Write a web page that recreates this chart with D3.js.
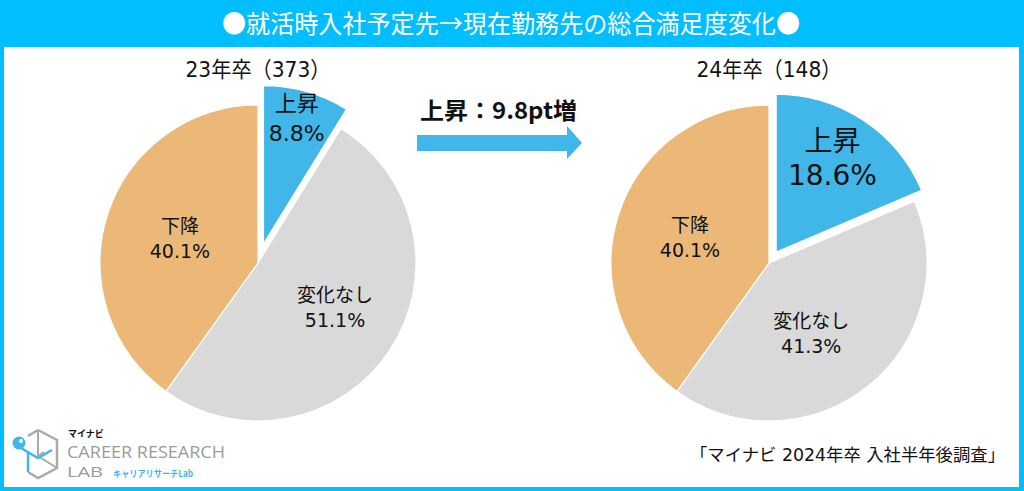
<!DOCTYPE html>
<html><head><meta charset="utf-8">
<script src="https://cdn.jsdelivr.net/npm/d3@7/dist/d3.min.js"></script>
<style>
html,body{margin:0;padding:0;background:#fff;}
svg{display:block;font-family:"DejaVu Sans","Noto Sans CJK JP",sans-serif;}
</style></head>
<body>
<svg id="chart" width="1024" height="491"></svg>
<script>
// ---- data ----
const title = "●就活時入社予定先→現在勤務先の総合満足度変化●";
const categories = ["上昇", "変化なし", "下降"];
const chartTitles = ["23年卒（373）", "24年卒（148）"];
const values23 = [8.8, 51.1, 40.1];
const values24 = [18.6, 41.3, 40.1];
const changeLabel = "上昇：9.8pt増";
const sourceNote = "「マイナビ 2024年卒 入社半年後調査」";

// ---- style ----
const colors = ["#41B6E9", "#D9D9D9", "#EBB878"];
const cyan = "#00BEFF";
const cjk = "'Noto Sans CJK JP',sans-serif";

const svg = d3.select("#chart");
const W = 1024, H = 491;

// frame
svg.append("rect").attr("x",0).attr("y",0).attr("width",W).attr("height",H).attr("fill",cyan);
svg.append("rect").attr("x",4).attr("y",47).attr("width",W-9).attr("height",H-47-4).attr("fill","#fff");
svg.append("text").attr("x",511).attr("y",33).attr("text-anchor","middle").attr("font-family",cjk)
  .attr("fill","#fff").attr("font-size",25).attr("textLength",578).attr("lengthAdjust","spacingAndGlyphs")
  .text(title);

const pie = d3.pie().sort(null).value(d=>d);
const r = 158;
const arc = d3.arc().innerRadius(0).outerRadius(r);

const charts = [
  {values: values23, cx: 258, cy: 263, explode: 20, title: chartTitles[0],
   labels: [{da:-1, rho:130, fs:22, gap:30}, {da:-3.6, rho:89, fs:19, gap:25}, {da:0, rho:82, fs:19, gap:25}]},
  {values: values24, cx: 769, cy: 263, explode: 13, title: chartTitles[1],
   labels: [{da:-2.7, rho:110, fs:28, gap:34}, {da:7.7, rho:82, fs:19, gap:25}, {da:0, rho:83, fs:19, gap:25}]}
];

charts.forEach(c => {
  const g = svg.append("g").attr("transform",`translate(${c.cx},${c.cy})`);
  const arcs = pie(c.values);
  arcs.forEach((a,i) => {
    const mid = (a.startAngle + a.endAngle)/2;
    const off = i===0 ? c.explode : 0;
    const ox = off*Math.sin(mid), oy = -off*Math.cos(mid);
    const sg = g.append("g").attr("transform",`translate(${ox},${oy})`);
    sg.append("path").attr("d", arc(a)).attr("fill", colors[i])
      .attr("stroke","#fff").attr("stroke-width",1.2);
    const L = c.labels[i];
    const ang = mid + L.da*Math.PI/180;
    const lx = L.rho*Math.sin(ang), ly = -L.rho*Math.cos(ang);
    const t = sg.append("text").attr("text-anchor","middle").attr("fill","#111").attr("font-size",L.fs);
    t.append("tspan").attr("x",lx).attr("y",ly - L.gap/2 + L.fs*0.38).attr("font-family",cjk).text(categories[i]);
    t.append("tspan").attr("x",lx).attr("y",ly + L.gap/2 + L.fs*0.38).text(d3.format(".1f")(c.values[i]) + "%");
  });
  svg.append("text").attr("x",c.cx).attr("y",77).attr("text-anchor","middle")
    .attr("font-size",22).attr("fill","#111").attr("textLength",145).attr("lengthAdjust","spacingAndGlyphs").text(c.title);
});

// arrow
const arrow = d3.path();
arrow.moveTo(417,135); arrow.lineTo(567,135); arrow.lineTo(567,126); arrow.lineTo(582,143);
arrow.lineTo(567,159); arrow.lineTo(567,151); arrow.lineTo(417,151); arrow.closePath();
svg.append("path").attr("d",arrow.toString()).attr("fill","#41B6E9");
svg.append("text").attr("x",420).attr("y",119).attr("font-size",23).attr("font-weight","bold").attr("font-family",cjk)
  .attr("fill","#111").attr("textLength",157).attr("lengthAdjust","spacingAndGlyphs").text(changeLabel);

// source
svg.append("text").attr("x",1005).attr("y",461).attr("text-anchor","end").attr("font-size",17)
  .attr("fill","#111").attr("textLength",315).attr("lengthAdjust","spacingAndGlyphs").text(sourceNote);

// logo
const lg = svg.append("g");
lg.append("path").attr("d","M38,430 L57,440 L57,468 L38,478 L28,472 M38,430 L28,436")
  .attr("fill","none").attr("stroke","#aaa").attr("stroke-width",2.5);
lg.append("path").attr("d","M38,430 L38,456 L57,468 M38,456 L44,452")
  .attr("fill","none").attr("stroke","#aaa").attr("stroke-width",2);
lg.append("path").attr("d","M21,448 L38,458 L52,450 M28,452 L28,472")
  .attr("fill","none").attr("stroke","#41B6E9").attr("stroke-width",2.5);
lg.append("circle").attr("cx",19).attr("cy",443).attr("r",6.5).attr("fill","#41B6E9");
lg.append("circle").attr("cx",21).attr("cy",441).attr("r",2).attr("fill","#fff");
lg.append("text").attr("x",68).attr("y",437).attr("font-size",9).attr("font-weight","bold").attr("font-family",cjk).attr("fill","#111").text("マイナビ");
lg.append("text").attr("x",67).attr("y",458).attr("font-size",16).attr("fill","#9a9a9a")
  .attr("font-family","'Open Sans','DejaVu Sans',sans-serif").attr("textLength",158).attr("lengthAdjust","spacingAndGlyphs").text("CAREER RESEARCH");
lg.append("text").attr("x",67).attr("y",477).attr("font-size",14).attr("fill","#9a9a9a")
  .attr("font-family","'Open Sans','DejaVu Sans',sans-serif").attr("textLength",36).attr("lengthAdjust","spacingAndGlyphs").text("LAB");
lg.append("text").attr("x",113).attr("y",477).attr("font-size",9).attr("font-weight","bold").attr("fill","#41B6E9").attr("font-family",cjk)
  .attr("textLength",80).attr("lengthAdjust","spacingAndGlyphs").text("キャリアリサーチLab");
</script>
</body></html>
